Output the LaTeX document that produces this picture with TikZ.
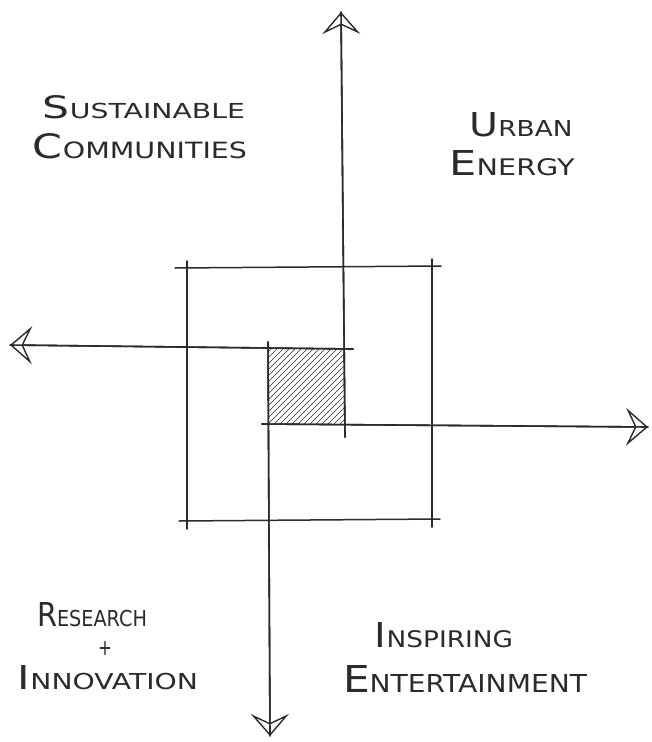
\documentclass[tikz,border=0pt]{standalone}
\usepackage{fontspec}
\usepackage{graphicx}
\newfontfamily\handfont{DejaVu Sans}
\usetikzlibrary{arrows.meta}
\definecolor{ink}{HTML}{2B2B2B}
\newcommand\hcap[2]{{\fontsize{30}{30}\selectfont #1}{\fontsize{20}{20}\selectfont #2}}
\newcommand\fitbox[3]{\resizebox{#1pt}{#2pt}{\handfont #3}}
\begin{document}
\begin{tikzpicture}[x=1pt,y=-1pt,
  axis/.style={draw=ink,line width=1.6pt,line cap=round},
  frame/.style={draw=ink,line width=1.5pt,line cap=round},
  tipped/.style={-{Stealth[open,length=22pt,width=38pt,inset=9pt,line width=1.4pt]}},
  hatch/.style={draw=ink,line width=0.6pt},
  lbl/.style={inner sep=0pt,text=ink}]
\fill[white] (0,0) rectangle (652,742);
\useasboundingbox (0,0) rectangle (652,742);

% axis end points
\coordinate (upTip) at (341,12);
\coordinate (upEnd) at (345,437);
\coordinate (leftTip) at (10,345);
\coordinate (leftEnd) at (353,349);
\coordinate (downTip) at (270,736);
\coordinate (downEnd) at (268,342);
\coordinate (rightTip) at (648,427);
\coordinate (rightEnd) at (262,424);

% outer square
\coordinate (oTL) at (175,268); \coordinate (oTR) at (441,266);
\coordinate (oBL) at (179,521); \coordinate (oBR) at (440,519);
\coordinate (oLT) at (187,261); \coordinate (oLB) at (187,529);
\coordinate (oRT) at (432,259); \coordinate (oRB) at (432,527);
\draw[frame] (oTL) -- (oTR);
\draw[frame] (oBL) -- (oBR);
\draw[frame] (oLT) -- (oLB);
\draw[frame] (oRT) -- (oRB);

% hatched centre square
\begin{scope}
  \clip (268,349) rectangle (345,424);
  \foreach \k in {186,192,...,352} \draw[hatch] (\k,428) -- ++(84,-84);
\end{scope}

% axes
\draw[axis] (upEnd) -- (upTip);
\draw[axis,tipped] (upEnd) -- (upTip);
\draw[axis] (leftEnd) -- (leftTip);
\draw[axis,tipped] (leftEnd) -- (leftTip);
\draw[axis] (downEnd) -- (downTip);
\draw[axis,tipped] (downEnd) -- (downTip);
\draw[axis] (rightEnd) -- (rightTip);
\draw[axis,tipped] (rightEnd) -- (rightTip);

% labels
\node[lbl] (sus) at (144,107) {\fitbox{202}{23}{\hcap{S}{USTAINABLE}}};
\node[lbl] (com) at (140,146) {\fitbox{214}{25}{\hcap{C}{OMMUNITIES}}};
\node[lbl] (urb) at (521,125) {\fitbox{103}{24}{\hcap{U}{RBAN}}};
\node[lbl] (ene) at (512,163) {\fitbox{125}{25}{\hcap{E}{NERGY}}};
\node[lbl] (res) at (92,615) {\fitbox{110}{24}{\hcap{R}{ESEARCH}}};
\node[lbl] (plus) at (105,648) {\fitbox{14}{14}{+}};
\node[lbl] (inn) at (108,678) {\fitbox{180}{24}{\hcap{I}{NNOVATION}}};
\node[lbl] (ins) at (444,635) {\fitbox{138}{25}{\hcap{I}{NSPIRING}}};
\node[lbl] (ent) at (465,679) {\fitbox{244}{27}{\hcap{E}{NTERTAINMENT}}};
\end{tikzpicture}
\end{document}
